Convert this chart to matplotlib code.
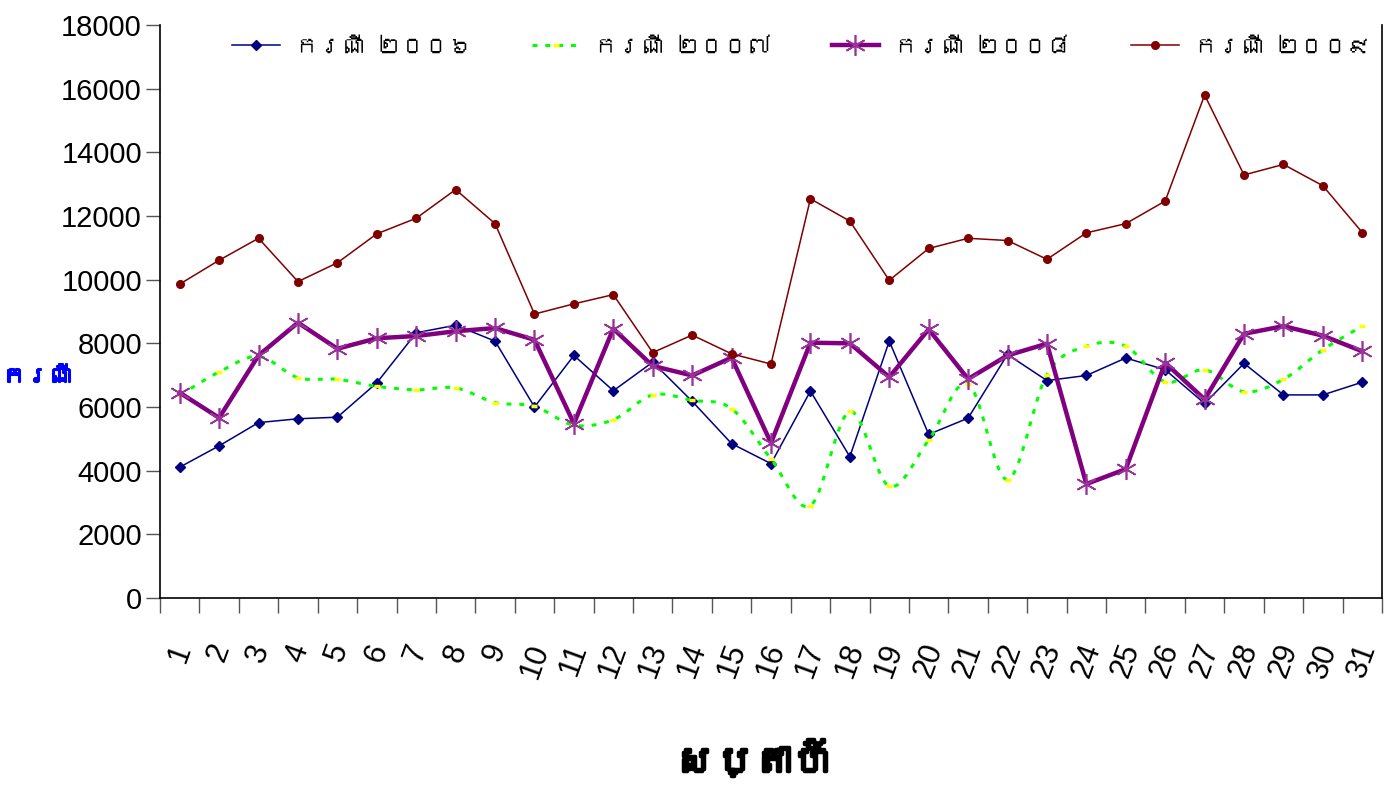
import numpy as np
import matplotlib
matplotlib.use('Agg')
import matplotlib.pyplot as plt
import matplotlib.patheffects as pe
from matplotlib import font_manager
from matplotlib.ft2font import FT2Font
from matplotlib.lines import Line2D
from matplotlib.path import Path
from matplotlib.patches import PathPatch

# data
weeks = list(range(1, 32))
cases_2006 = [4110, 4780, 5510, 5630, 5680, 6760, 8330, 8570, 8070, 6000,
              7620, 6510, 7410, 6180, 4850, 4220, 6500, 4440, 8070, 5140,
              5650, 7650, 6830, 6990, 7540, 7170, 6110, 7370, 6380, 6380, 6780]
cases_2007 = [6370, 7100, 7590, 6920, 6870, 6650, 6540, 6600, 6140, 6020,
              5430, 5600, 6380, 6210, 5950, 4370, 2900, 5860, 3510, 4960,
              6730, 3720, 7020, 7910, 7910, 6790, 7170, 6480, 6870, 7800, 8540]
cases_2008 = [6450, 5660, 7620, 8650, 7830, 8160, 8230, 8380, 8480, 8110,
              5480, 8460, 7290, 6990, 7550, 4870, 8020, 8000, 6940, 8440,
              6880, 7620, 7990, 3580, 4050, 7390, 6240, 8300, 8540, 8240, 7750]
cases_2009 = [9860, 10610, 11300, 9940, 10530, 11440, 11930, 12830, 11760, 8920,
              9240, 9530, 7710, 8260, 7670, 7350, 12540, 11840, 9980, 10980,
              11300, 11230, 10640, 11470, 11760, 12470, 15800, 13290, 13620, 12950, 11480]
series_labels = ['ករណី ២០០៦', 'ករណី ២០០៧', 'ករណី ២០០៨', 'ករណី ២០០៩']
y_label = 'ករណី'
x_label = 'សប្តាហ៍'

# find any installed font that has khmer glyphs
khmer = None
for f in font_manager.fontManager.ttflist:
    try:
        if FT2Font(f.fname).get_char_index(0x1780):
            khmer = f.name
            break
    except Exception:
        pass
kfam = [khmer, 'Liberation Sans', 'DejaVu Sans'] if khmer else ['Liberation Sans', 'DejaVu Sans']

plt.rcParams['font.family'] = ['Liberation Sans', 'DejaVu Sans']

fig = plt.figure(figsize=(13.97, 7.91), dpi=100)
ax = fig.add_axes([160 / 1397, 1 - 598 / 791, 1222 / 1397, 573 / 791])

ax.plot(weeks, cases_2006, color='#000080', lw=1.1, marker='D', ms=5, zorder=3)

# 2007: smoothed (bezier) dashed green line, yellow dash markers
x = np.array(weeks, dtype=float)
y = np.array(cases_2007, dtype=float)
verts = [(x[0], y[0])]
codes = [Path.MOVETO]
n = len(x)
for i in range(n - 1):
    p0 = max(i - 1, 0)
    p3 = min(i + 2, n - 1)
    c1 = (x[i] + (x[i + 1] - x[p0]) / 6, y[i] + (y[i + 1] - y[p0]) / 6)
    c2 = (x[i + 1] - (x[p3] - x[i]) / 6, y[i + 1] - (y[p3] - y[i]) / 6)
    verts += [c1, c2, (x[i + 1], y[i + 1])]
    codes += [Path.CURVE4] * 3
ax.add_patch(PathPatch(Path(verts, codes), fill=False, edgecolor='#00FF00', lw=2.2,
                       linestyle=(0, (1.6, 2.6)), zorder=3))
ax.plot(weeks, cases_2007, linestyle='none', marker='_', ms=5, mew=2.5, color='#FFFF00', zorder=4)

ax.plot(weeks, cases_2008, color='#800080', lw=3.2, marker=(6, 2, 0), ms=15, mew=1.2,
        mec='#993399', zorder=5)
ax.plot(weeks, cases_2009, color='#800000', lw=1.1, marker='o', ms=5.5, zorder=6)

ax.set_xlim(0.5, 31.5)
ax.set_ylim(0, 18000)
ax.set_yticks(np.arange(0, 18001, 2000))
ax.set_xticks(weeks)
ax.set_xticks(np.arange(0.5, 31.6, 1), minor=True)
ax.tick_params(axis='x', which='major', length=0, labelsize=22, pad=30, labelrotation=70)
ax.tick_params(axis='x', which='minor', length=11, width=1, color='#555555')
ax.tick_params(axis='y', length=10, width=1, color='#555555', labelsize=21, pad=3)
for lab in ax.get_xticklabels():
    lab.set_ha('center')
    lab.set_va('top')
ax.spines['top'].set_visible(False)
for s in ['left', 'bottom', 'right']:
    ax.spines[s].set_linewidth(1.2)

handles = [
    Line2D([], [], color='#000080', lw=1.1, marker='D', ms=5),
    Line2D([], [], color='#00FF00', lw=2.2, linestyle=(0, (1.6, 2.6)), marker='_', ms=5,
           mew=2.5, mec='#FFFF00'),
    Line2D([], [], color='#800080', lw=3.2, marker=(6, 2, 0), ms=15, mew=1.2, mec='#993399'),
    Line2D([], [], color='#800000', lw=1.1, marker='o', ms=5.5),
]
ax.legend(handles, series_labels, loc='center', bbox_to_anchor=(0.525, 0.962), ncol=4,
          frameon=False, handlelength=2.0, handletextpad=0.64, columnspacing=2.55,
          prop={'family': kfam, 'size': 17})

fig.text(38 / 1397, 1 - 377 / 791, y_label, color='#0000FF', fontsize=17, fontweight='bold',
         ha='center', va='center', family=kfam,
         path_effects=[pe.withStroke(linewidth=1.5, foreground='#0000FF')])
fig.text(753 / 1397, 1 - 760 / 791, x_label, color='black', fontsize=28, fontweight='bold',
         ha='center', va='center', family=kfam,
         path_effects=[pe.withStroke(linewidth=2.5, foreground='black')])

fig.savefig('out.png', dpi=100, facecolor='white')
